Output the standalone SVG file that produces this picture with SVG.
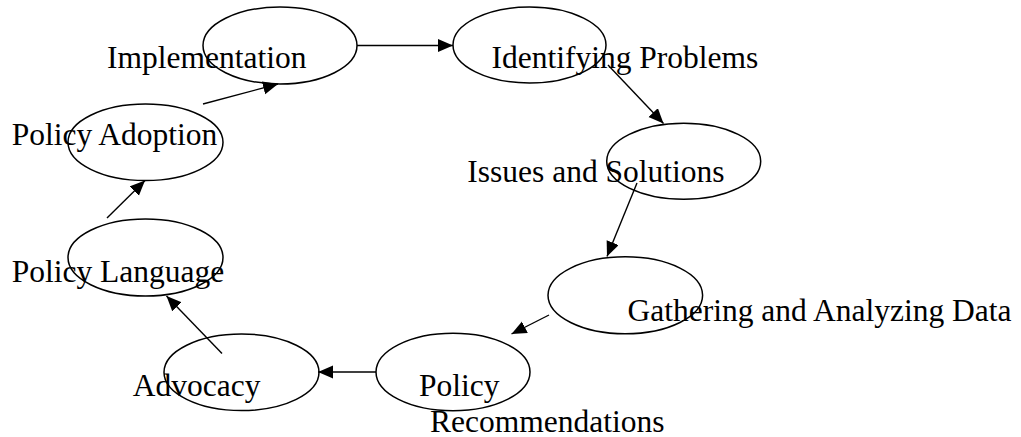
<svg xmlns="http://www.w3.org/2000/svg" width="1021" height="437" viewBox="0 0 1021 437">
<style>
.n{fill:none;stroke:#000;stroke-width:1.5}
.t{font-family:"Liberation Serif","Times New Roman",serif;font-size:31.5px;fill:#000}
.c{stroke:#000;stroke-width:1.4;fill:none;marker-end:url(#ah)}
</style>
<defs>
<marker id="ah" markerUnits="userSpaceOnUse" markerWidth="16" markerHeight="14" refX="15" refY="6.5" orient="auto">
<path d="M0,0 L15,6.5 L0,13 Z" fill="#000"/>
</marker>
</defs>
<rect width="1021" height="437" fill="#fff"/>
<g id="connectors">
<line class="c" x1="357" y1="45.5" x2="453" y2="45.5"/>
<line class="c" x1="608" y1="65" x2="663.5" y2="123.5"/>
<line class="c" x1="637" y1="183" x2="607" y2="256.5"/>
<line class="c" x1="549" y1="315" x2="511.5" y2="334"/>
<line class="c" x1="376" y1="372" x2="318" y2="372"/>
<line class="c" x1="222" y1="353.5" x2="166.5" y2="296"/>
<line class="c" x1="107" y1="218" x2="145" y2="180.5"/>
<line class="c" x1="203" y1="104" x2="278" y2="84"/>
</g>
<g id="implementation">
<ellipse class="n" cx="280" cy="45.5" rx="77" ry="38.5"/>
<text class="t" x="107" y="68">Implementation</text>
</g>
<g id="identifying-problems">
<ellipse class="n" cx="529.5" cy="45" rx="76.5" ry="38"/>
<text class="t" x="491.5" y="68">Identifying Problems</text>
</g>
<g id="issues-and-solutions">
<ellipse class="n" cx="683.7" cy="161.3" rx="77" ry="38"/>
<text class="t" x="467.3" y="181.5">Issues and Solutions</text>
</g>
<g id="gathering-data">
<ellipse class="n" cx="625.3" cy="295.3" rx="77.3" ry="38.5"/>
<text class="t" x="627.5" y="321">Gathering and Analyzing Data</text>
</g>
<g id="policy-recommendations">
<ellipse class="n" cx="453" cy="372" rx="77" ry="38.8"/>
<text class="t" x="419" y="396">Policy</text>
<text class="t" x="430" y="431.5">Recommendations</text>
</g>
<g id="advocacy">
<ellipse class="n" cx="241.5" cy="372.3" rx="77.5" ry="38.3"/>
<text class="t" x="132.7" y="396">Advocacy</text>
</g>
<g id="policy-language">
<ellipse class="n" cx="145.5" cy="257.5" rx="77.5" ry="38.5"/>
<text class="t" x="11.7" y="281.5">Policy Language</text>
</g>
<g id="policy-adoption">
<ellipse class="n" cx="145.5" cy="142.3" rx="77.5" ry="38.3"/>
<text class="t" x="11.7" y="145">Policy Adoption</text>
</g>
</svg>
